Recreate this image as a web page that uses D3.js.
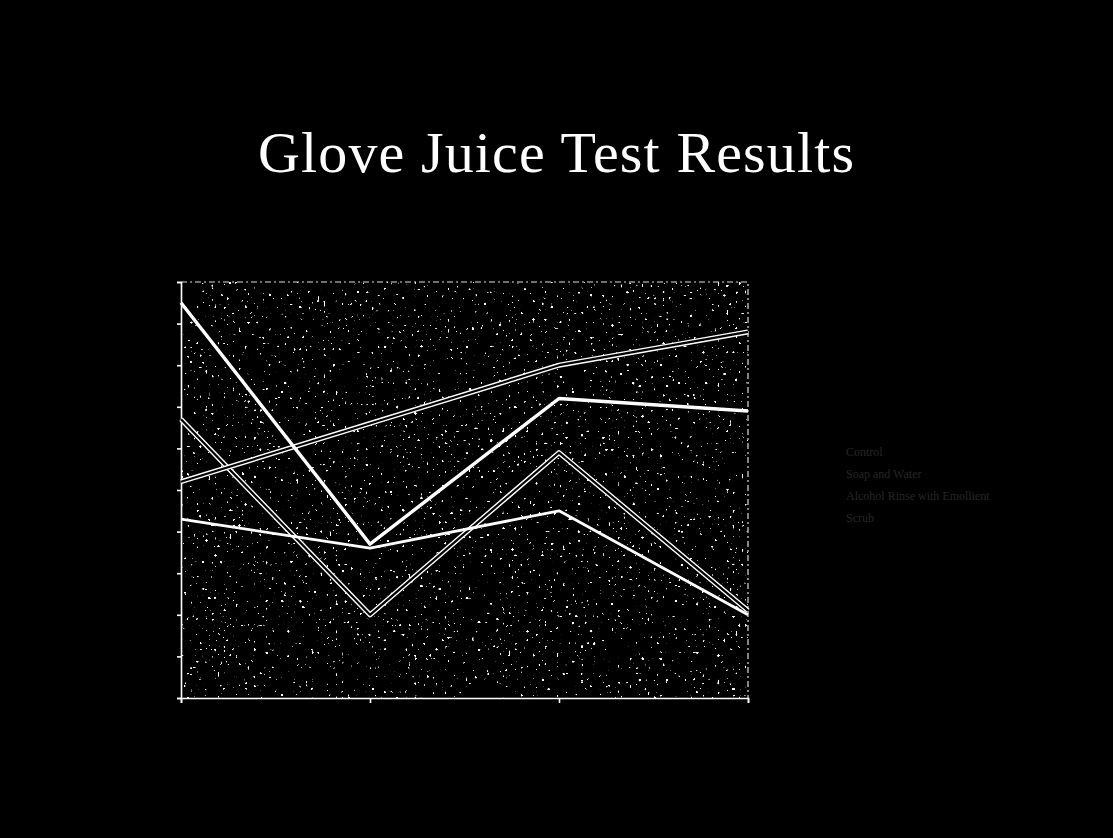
<!DOCTYPE html>
<html>
<head>
<meta charset="utf-8">
<script src="https://cdn.jsdelivr.net/npm/d3@7"></script>
<style>
  html, body { margin: 0; padding: 0; background: #000; }
  svg { display: block; }
</style>
</head>
<body>
<div id="chart"></div>
<script>
// chart values
var title = "Glove Juice Test Results";
var categories = ["1", "2", "3", "4"];
var seriesNames = ["Control", "Soap and Water", "Alcohol Rinse with Emollient", "Scrub"];
var seriesA = [9.5, 3.7, 7.2, 6.9];
var seriesB = [5.2, 6.6, 8.0, 8.8];
var seriesC = [6.7, 2.0, 5.9, 2.1];
var seriesD = [4.3, 3.6, 4.5, 2.0];
var yTicks = [0, 1, 2, 3, 4, 5, 6, 7, 8, 9, 10];

var width = 1113, height = 838;
var margin = { top: 282, right: 365, bottom: 140, left: 181 };
var innerW = width - margin.left - margin.right,
    innerH = height - margin.top - margin.bottom;

var svg = d3.select("#chart").append("svg")
    .attr("width", width)
    .attr("height", height);

svg.append("rect")
    .attr("width", width)
    .attr("height", height)
    .attr("fill", "#000");

// speckled halftone look of the scanned plot area
var defs = svg.append("defs");
var filt = defs.append("filter")
    .attr("id", "speck")
    .attr("x", 0).attr("y", 0).attr("width", 1).attr("height", 1);
filt.append("feTurbulence")
    .attr("type", "fractalNoise")
    .attr("baseFrequency", 0.33)
    .attr("numOctaves", 1)
    .attr("seed", 7);
filt.append("feColorMatrix")
    .attr("type", "matrix")
    .attr("values", "0 0 0 0 1  0 0 0 0 1  0 0 0 0 1  26 0 0 0 -17.8");

svg.append("text")
    .attr("x", 556)
    .attr("y", 172)
    .attr("text-anchor", "middle")
    .attr("fill", "#fff")
    .attr("font-family", "'Liberation Serif', 'DejaVu Serif', serif")
    .attr("font-size", 58)
    .attr("textLength", 596)
    .attr("lengthAdjust", "spacing")
    .text(title);

var g = svg.append("g")
    .attr("transform", "translate(" + margin.left + "," + margin.top + ")");

var x = d3.scalePoint()
    .domain(categories)
    .range([0, innerW]);

var y = d3.scaleLinear()
    .domain([0, 10])
    .range([innerH, 0]);

g.append("rect")
    .attr("width", innerW)
    .attr("height", innerH)
    .attr("filter", "url(#speck)");

// dotted frame top / right
g.append("path")
    .attr("d", "M0,0H" + innerW + "V" + innerH)
    .attr("fill", "none")
    .attr("stroke", "#ddd")
    .attr("stroke-width", 1.2)
    .attr("stroke-dasharray", "6 3 2 3");

var yAxis = g.append("g")
    .call(d3.axisLeft(y).tickValues(yTicks).tickSize(4).tickFormat(""));
var xAxis = g.append("g")
    .attr("transform", "translate(0," + innerH + ")")
    .call(d3.axisBottom(x).tickSize(5).tickFormat(""));
[yAxis, xAxis].forEach(function (a) {
    a.selectAll("path, line").attr("stroke", "#fff").attr("stroke-width", 1.6);
});

var line = d3.line()
    .x(function (d, i) { return x(categories[i]); })
    .y(function (d) { return y(d); });

// double (outlined) lines first, solid ones on top
[seriesC, seriesB].forEach(function (s) {
    g.append("path").datum(s)
        .attr("d", line)
        .attr("fill", "none")
        .attr("stroke", "#fff")
        .attr("stroke-width", 5)
        .attr("stroke-linejoin", "round");
    g.append("path").datum(s)
        .attr("d", line)
        .attr("fill", "none")
        .attr("stroke", "#000")
        .attr("stroke-width", 2.2)
        .attr("stroke-linejoin", "round");
});

[seriesD, seriesA].forEach(function (s, i) {
    g.append("path").datum(s)
        .attr("d", line)
        .attr("fill", "none")
        .attr("stroke", "#fff")
        .attr("stroke-width", i === 1 ? 3.4 : 2.8)
        .attr("stroke-linejoin", "round");
});

// legend, barely visible on the scan
var legend = svg.append("g")
    .attr("transform", "translate(846,456)");
legend.selectAll("text")
    .data(seriesNames)
    .enter().append("text")
    .attr("x", 0)
    .attr("y", function (d, i) { return i * 22; })
    .attr("fill", "#262626")
    .attr("font-family", "'Liberation Serif', serif")
    .attr("font-size", 12)
    .text(function (d) { return d; });
</script>
</body>
</html>
